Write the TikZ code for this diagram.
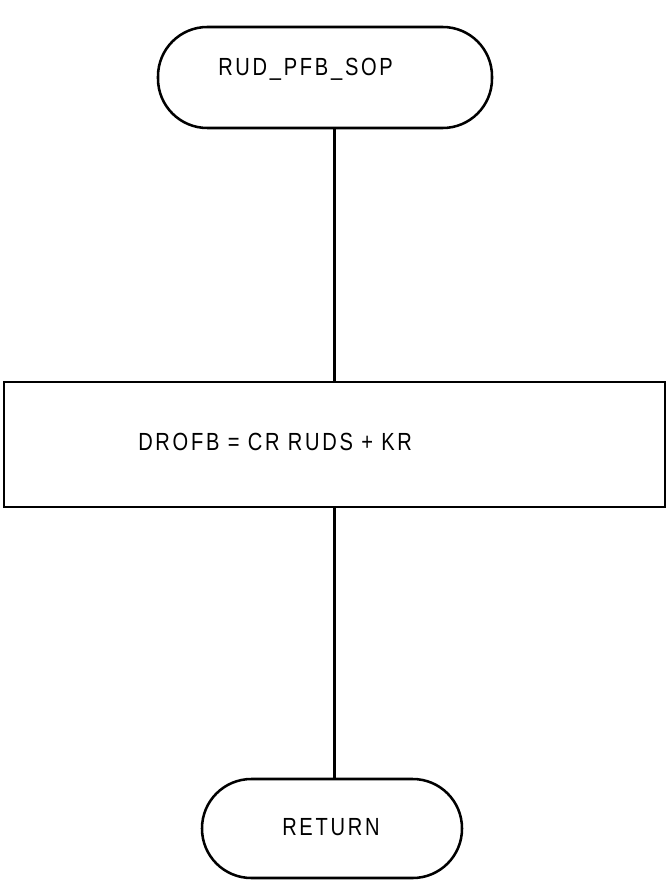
\documentclass[tikz,border=0pt]{standalone}
\usepackage{fontspec}
\setmainfont{Liberation Sans}[FakeStretch=0.81,LetterSpace=11]
\begin{document}
\begin{tikzpicture}[x=0.75pt,y=-0.75pt,
  shapeline/.style={draw=black,line width=1.9pt},
  terminal/.style={shapeline,rectangle,rounded corners=37pt,inner sep=0pt},
  procbox/.style={shapeline,rectangle,inner sep=0pt},
  txt/.style={inner sep=0pt,anchor=base west,font=\fontsize{18.6pt}{22pt}\selectfont},
  flow/.style={draw=black,line width=1.9pt}]
\useasboundingbox (0,0) rectangle (667,884);
\node[terminal,minimum width=250.5pt,minimum height=75.75pt] (start) at (325,77.5) {};
\node[procbox,minimum width=495.75pt,minimum height=93.75pt] (calc) at (334.5,444.5) {};
\node[terminal,minimum width=195pt,minimum height=74.25pt] (ret) at (332,828.5) {};
\node[txt] (starttxt) at (218,76) {RUD\_PFB\_SOP};
\node[txt] (calctxt) at (138,450) {DROFB = CR RUDS + KR};
\node[txt] (rettxt) at (282,835) {RETURN};
\draw[flow] (start.south -| calc.north) -- (calc.north);
\draw[flow] (calc.south) -- (ret.north -| calc.south);
\end{tikzpicture}
\end{document}
